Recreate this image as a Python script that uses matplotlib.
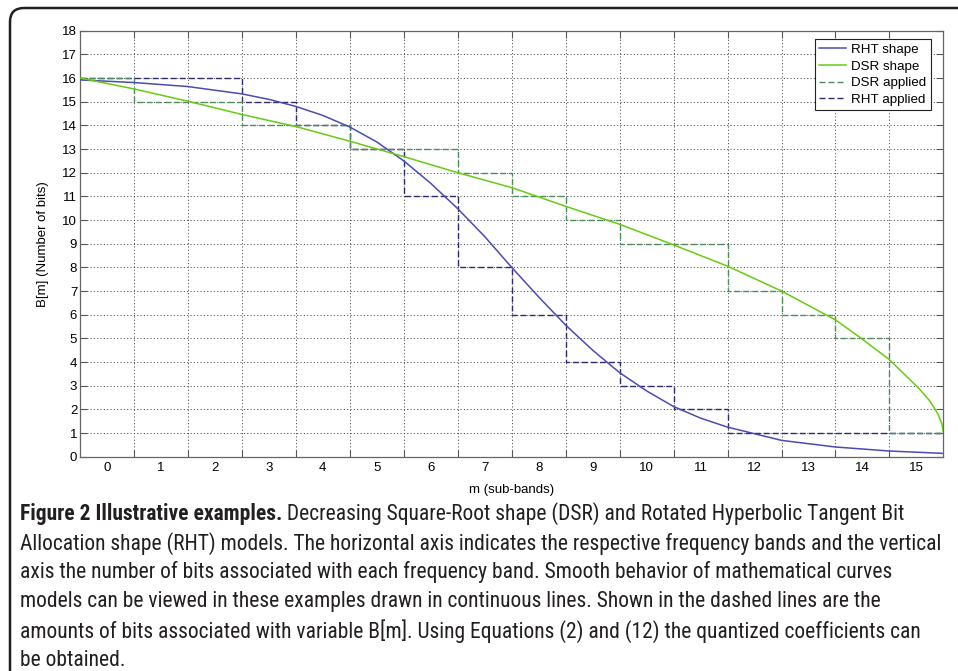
import numpy as np
import matplotlib
matplotlib.use('Agg')
import matplotlib.pyplot as plt
from matplotlib.patches import FancyBboxPatch
from matplotlib.transforms import IdentityTransform
from matplotlib import font_manager

# Sub-bands and bits applied per band (dashed staircases)
bands = list(range(16))
dsr_applied = [16, 15, 15, 14, 14, 13, 13, 12, 11, 10, 9, 9, 7, 6, 5, 1]
rht_applied = [16, 16, 16, 15, 14, 13, 11, 8, 6, 4, 3, 2, 1, 1, 1, 1]

# Continuous model curves (x in sub-band units)
rht_x = [-0.5, 0.5, 1.5, 2.5, 3.0, 3.5, 4.0, 4.5, 5.0, 5.5, 6.0, 6.5, 7.0, 7.5,
         8.0, 8.5, 9.0, 9.5, 10.0, 10.5, 11.0, 11.5, 12.5, 13.5, 14.5, 15.5]
rht_y = [15.92, 15.81, 15.64, 15.33, 15.1, 14.8, 14.42, 13.93, 13.3, 12.5, 11.55,
         10.48, 9.3, 8.0, 6.75, 5.56, 4.5, 3.55, 2.78, 2.12, 1.63, 1.25, 0.69,
         0.41, 0.24, 0.14]
dsr_x = [-0.5, 0.5, 1.5, 2.5, 3.5, 4.5, 5.5, 6.5, 7.5, 8.5, 9.5, 10.5, 11.5,
         12.5, 13.5, 13.96, 14.5, 15.06, 15.25, 15.4, 15.47, 15.5]
dsr_y = [16.0, 15.54, 15.02, 14.46, 13.95, 13.33, 12.68, 12.0, 11.37, 10.58,
         9.82, 8.95, 8.05, 7.0, 5.78, 5.03, 4.1, 2.85, 2.35, 1.8, 1.4, 1.04]

y_ticks = list(range(19))
legend_labels = ['RHT shape', 'DSR shape', 'DSR applied', 'RHT applied']

caption_bold = 'Figure 2 Illustrative examples.'
caption_lines = [
    ' Decreasing Square-Root shape (DSR) and Rotated Hyperbolic Tangent Bit',
    'Allocation shape (RHT) models. The horizontal axis indicates the respective frequency bands and the vertical',
    'axis the number of bits associated with each frequency band. Smooth behavior of mathematical curves',
    'models can be viewed in these examples drawn in continuous lines. Shown in the dashed lines are the',
    'amounts of bits associated with variable B[m]. Using Equations (2) and (12) the quantized coefficients can',
    'be obtained.',
]


def narrow_font():
    # look for a condensed sans for the caption, else plain Liberation Sans
    cands = [('Liberation Sans Narrow', 'normal'), ('Roboto Condensed', 'normal'),
             ('Open Sans Condensed', 'normal'), ('DejaVu Sans', 'condensed'),
             ('Noto Sans', 'condensed'), ('Open Sans', 'condensed'),
             ('Roboto', 'condensed')]
    for fam, st in cands:
        try:
            path = font_manager.findfont(font_manager.FontProperties(family=fam, stretch=st),
                                         fallback_to_default=False)
        except ValueError:
            continue
        name = path.lower()
        if 'narrow' in name or 'condensed' in name or 'cond' in name:
            return fam, st
    return 'Liberation Sans', 'normal'


plt.rcParams['font.family'] = ['Liberation Sans', 'DejaVu Sans']
plt.rcParams['lines.scale_dashes'] = False
cap_family, cap_stretch = narrow_font()

W, H = 958, 671
fig = plt.figure(figsize=(W / 100, H / 100), dpi=100)
fig.patch.set_facecolor('white')

# rounded frame around the whole figure panel
frame = FancyBboxPatch((10, -60), 1100, H - 8 + 60,
                       boxstyle='round,pad=0,rounding_size=14',
                       transform=IdentityTransform(), facecolor='none',
                       edgecolor='#231f20', linewidth=1.8)
fig.patches.append(frame)

ax_l, ax_r, ax_t, ax_b = 80, 943.4, 30.7, 456.7
ax = fig.add_axes([ax_l / W, 1 - ax_b / H, (ax_r - ax_l) / W, (ax_b - ax_t) / H])

edges = np.arange(len(bands) + 1) - 0.5
l_rht, = ax.plot(rht_x, rht_y, color='#4b4bb4', lw=1.1, zorder=4)
l_dsr, = ax.plot(dsr_x, dsr_y, color='#66cc11', lw=1.1, zorder=4)
l_rhta, = ax.step(edges, rht_applied + [rht_applied[-1]], where='post',
                  color='#2b2b6e', lw=1.0, dashes=(4.3, 2.2), zorder=2)
l_dsra, = ax.step(edges, dsr_applied + [dsr_applied[-1]], where='post',
                  color='#4f8c5c', lw=1.0, dashes=(4.3, 2.2), zorder=3)

ax.set_xlim(-0.5, 15.5)
ax.set_ylim(0, 18)
ax.set_xticks(edges[1:-1])
ax.set_xticks(bands, minor=True)
ax.set_xticklabels([str(b) for b in bands], minor=True)
ax.set_yticks(y_ticks)
ax.set_yticklabels([str(v) for v in y_ticks])
ax.tick_params(axis='x', which='major', labelbottom=False, direction='in',
               length=5, width=0.8, color='#555555', top=True)
ax.tick_params(axis='x', which='minor', length=0, pad=4, labelsize=9.5)
ax.tick_params(axis='y', direction='in', length=5, width=0.8, color='#555555',
               right=True, pad=2, labelsize=9.5)
for s in ax.spines.values():
    s.set_color('#666666')
    s.set_linewidth(0.9)
ax.grid(True, which='major', color='#333333', lw=0.6, linestyle=(0, (0.8, 1.6)))
ax.set_axisbelow(True)

fig.text(511.7 / W, 1 - 490 / H, 'm (sub-bands)', ha='center', va='center', fontsize=9.5)
fig.text(43 / W, 1 - 243.7 / H, 'B[m] (Number of bits)', ha='center', va='center',
         rotation=90, fontsize=9.5)

leg = ax.legend([l_rht, l_dsr, l_dsra, l_rhta], legend_labels, loc='upper right',
                bbox_to_anchor=(0.9856, 0.9805), borderaxespad=0, fontsize=9.6,
                fancybox=False, framealpha=1, edgecolor='#222222',
                handlelength=2.0, handletextpad=0.4, labelspacing=0.32,
                borderpad=0.35)
leg.get_frame().set_linewidth(0.8)

# caption, sized so the longest line spans the panel width
renderer = fig.canvas.get_renderer()
probe = fig.text(0, 0, caption_lines[1], family=cap_family, stretch=cap_stretch,
                 fontsize=14)
cap_fs = 14 * 930 / probe.get_window_extent(renderer).width
probe.remove()

cap_x = 20
cap_y0, cap_dy = 514, 29.2
txt_color = '#231f20'


def cap_text(x, y, s, bold=False):
    return fig.text(x / W, 1 - y / H, s, family=cap_family, stretch=cap_stretch,
                    fontsize=cap_fs, weight='bold' if bold else 'normal',
                    ha='left', va='center', color=txt_color)


tb = cap_text(cap_x, cap_y0, caption_bold, bold=True)
bw = tb.get_window_extent(renderer).width
cap_text(cap_x + bw, cap_y0, caption_lines[0])
for i, line in enumerate(caption_lines[1:], start=1):
    cap_text(cap_x, cap_y0 + i * cap_dy, line)

fig.savefig('out.png', dpi=100)
